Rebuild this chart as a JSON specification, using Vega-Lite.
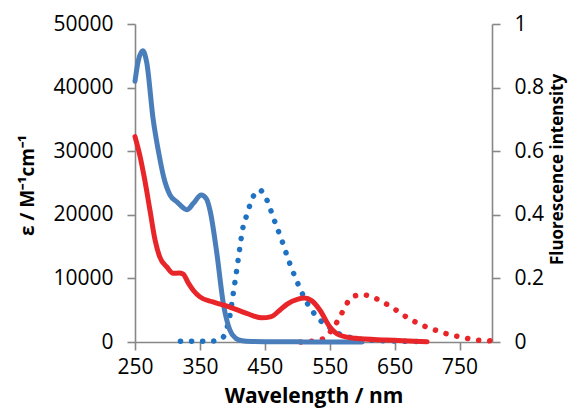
{
  "$schema": "https://vega.github.io/schema/vega-lite/v6.json",
  "autosize": "none",
  "width": 357,
  "height": 318,
  "padding": {"left": 135, "top": 24, "right": 76, "bottom": 77},
  "background": "white",
  "config": {
    "view": {"stroke": null},
    "axis": {
      "labelFont": "Open Sans", "labelFontSize": 21, "labelColor": "#000000",
      "titleFont": "Open Sans", "titleFontSize": 21, "titleFontWeight": "bold", "titleColor": "#000000",
      "domainColor": "#878787", "tickColor": "#878787", "domainWidth": 1.6, "tickWidth": 1.6,
      "tickSize": 8, "grid": false, "labelFlush": false, "labelOverlap": false
    }
  },
  "datasets": {
    "abs": [
      {"series": "blue", "wl": 250, "v": 41000},
      {"series": "blue", "wl": 255, "v": 44200},
      {"series": "blue", "wl": 262, "v": 45800},
      {"series": "blue", "wl": 268, "v": 44000},
      {"series": "blue", "wl": 278, "v": 35000},
      {"series": "blue", "wl": 287, "v": 29500},
      {"series": "blue", "wl": 294, "v": 26000},
      {"series": "blue", "wl": 304, "v": 23100},
      {"series": "blue", "wl": 315, "v": 22000},
      {"series": "blue", "wl": 330, "v": 20800},
      {"series": "blue", "wl": 340, "v": 21800},
      {"series": "blue", "wl": 352, "v": 23100},
      {"series": "blue", "wl": 360, "v": 22500},
      {"series": "blue", "wl": 366, "v": 20500},
      {"series": "blue", "wl": 376, "v": 14000},
      {"series": "blue", "wl": 386, "v": 6100},
      {"series": "blue", "wl": 396, "v": 1900},
      {"series": "blue", "wl": 405, "v": 600},
      {"series": "blue", "wl": 415, "v": 200},
      {"series": "blue", "wl": 430, "v": 80},
      {"series": "blue", "wl": 450, "v": 40},
      {"series": "blue", "wl": 500, "v": 20},
      {"series": "blue", "wl": 600, "v": 0},
      {"series": "red", "wl": 250, "v": 32300},
      {"series": "red", "wl": 258, "v": 29100},
      {"series": "red", "wl": 265, "v": 25500},
      {"series": "red", "wl": 273, "v": 20750},
      {"series": "red", "wl": 281, "v": 16000},
      {"series": "red", "wl": 288, "v": 13400},
      {"series": "red", "wl": 299, "v": 11800},
      {"series": "red", "wl": 309, "v": 10800},
      {"series": "red", "wl": 318, "v": 10850},
      {"series": "red", "wl": 324, "v": 10700},
      {"series": "red", "wl": 332, "v": 9300},
      {"series": "red", "wl": 340, "v": 8100},
      {"series": "red", "wl": 350, "v": 7100},
      {"series": "red", "wl": 370, "v": 6300},
      {"series": "red", "wl": 396, "v": 5500},
      {"series": "red", "wl": 422, "v": 4500},
      {"series": "red", "wl": 445, "v": 3800},
      {"series": "red", "wl": 460, "v": 4000},
      {"series": "red", "wl": 473, "v": 5000},
      {"series": "red", "wl": 485, "v": 6000},
      {"series": "red", "wl": 500, "v": 6700},
      {"series": "red", "wl": 511, "v": 6900},
      {"series": "red", "wl": 522, "v": 6500},
      {"series": "red", "wl": 535, "v": 5000},
      {"series": "red", "wl": 550, "v": 2400},
      {"series": "red", "wl": 565, "v": 1100},
      {"series": "red", "wl": 590, "v": 580},
      {"series": "red", "wl": 637, "v": 300},
      {"series": "red", "wl": 700, "v": 50}
    ],
    "fl": [
      {"series": "blue fl", "wl": 320, "v": 0.002},
      {"series": "blue fl", "wl": 353, "v": 0.002},
      {"series": "blue fl", "wl": 370, "v": 0.003},
      {"series": "blue fl", "wl": 380, "v": 0.007},
      {"series": "blue fl", "wl": 386, "v": 0.015},
      {"series": "blue fl", "wl": 391, "v": 0.04},
      {"series": "blue fl", "wl": 396, "v": 0.08},
      {"series": "blue fl", "wl": 401, "v": 0.148},
      {"series": "blue fl", "wl": 406, "v": 0.216},
      {"series": "blue fl", "wl": 411, "v": 0.289},
      {"series": "blue fl", "wl": 416, "v": 0.357},
      {"series": "blue fl", "wl": 422, "v": 0.398},
      {"series": "blue fl", "wl": 432, "v": 0.457},
      {"series": "blue fl", "wl": 442, "v": 0.478},
      {"series": "blue fl", "wl": 452, "v": 0.452},
      {"series": "blue fl", "wl": 464, "v": 0.386},
      {"series": "blue fl", "wl": 476, "v": 0.321},
      {"series": "blue fl", "wl": 487, "v": 0.255},
      {"series": "blue fl", "wl": 500, "v": 0.188},
      {"series": "blue fl", "wl": 514, "v": 0.127},
      {"series": "blue fl", "wl": 535, "v": 0.069},
      {"series": "blue fl", "wl": 550, "v": 0.045},
      {"series": "blue fl", "wl": 563, "v": 0.027},
      {"series": "blue fl", "wl": 580, "v": 0.015},
      {"series": "blue fl", "wl": 596, "v": 0.009},
      {"series": "blue fl", "wl": 650, "v": 0.003},
      {"series": "blue fl", "wl": 700, "v": 0.001},
      {"series": "red fl", "wl": 505, "v": 0.0},
      {"series": "red fl", "wl": 520, "v": 0.002},
      {"series": "red fl", "wl": 530, "v": 0.005},
      {"series": "red fl", "wl": 542, "v": 0.012},
      {"series": "red fl", "wl": 552, "v": 0.035},
      {"series": "red fl", "wl": 563, "v": 0.069},
      {"series": "red fl", "wl": 571, "v": 0.1},
      {"series": "red fl", "wl": 579, "v": 0.129},
      {"series": "red fl", "wl": 587, "v": 0.143},
      {"series": "red fl", "wl": 594, "v": 0.148},
      {"series": "red fl", "wl": 600, "v": 0.149},
      {"series": "red fl", "wl": 609, "v": 0.146},
      {"series": "red fl", "wl": 624, "v": 0.134},
      {"series": "red fl", "wl": 640, "v": 0.116},
      {"series": "red fl", "wl": 654, "v": 0.098},
      {"series": "red fl", "wl": 667, "v": 0.08},
      {"series": "red fl", "wl": 682, "v": 0.063},
      {"series": "red fl", "wl": 698, "v": 0.048},
      {"series": "red fl", "wl": 712, "v": 0.038},
      {"series": "red fl", "wl": 728, "v": 0.027},
      {"series": "red fl", "wl": 744, "v": 0.019},
      {"series": "red fl", "wl": 760, "v": 0.012},
      {"series": "red fl", "wl": 777, "v": 0.006},
      {"series": "red fl", "wl": 794, "v": 0.004},
      {"series": "red fl", "wl": 800, "v": 0.003}
    ]
  },
  "encoding": {
    "x": {
      "field": "wl", "type": "quantitative",
      "scale": {"domain": [250, 800], "nice": false, "zero": false},
      "axis": {"values": [250, 350, 450, 550, 650, 750], "title": "Wavelength / nm", "labelPadding": 6, "titlePadding": 8}
    },
    "color": {
      "field": "series", "type": "nominal",
      "scale": {"domain": ["blue", "red", "blue fl", "red fl"], "range": ["#4A7EBB", "#E8262A", "#1F72C2", "#E8262A"]},
      "legend": null
    },
    "detail": {"field": "series"}
  },
  "layer": [
    {
      "data": {"name": "fl"},
      "mark": {"type": "line", "interpolate": "monotone", "strokeWidth": 5.5, "strokeDash": [0.1, 11], "strokeCap": "round"},
      "encoding": {
        "y": {
          "field": "v", "type": "quantitative",
          "scale": {"domain": [0, 1], "nice": false},
          "axis": {"orient": "right", "values": [0, 0.2, 0.4, 0.6, 0.8, 1], "format": ".1~f", "title": "Fluorescence intensity", "labelPadding": 14,
                   "titleFontSize": 17, "titleAngle": -90, "titleX": 65, "titleY": 145, "titleAlign": "center", "titleBaseline": "middle"}
        }
      }
    },
    {
      "data": {"name": "abs"},
      "mark": {"type": "line", "interpolate": "monotone", "strokeWidth": 5, "strokeCap": "round"},
      "encoding": {
        "y": {
          "field": "v", "type": "quantitative",
          "scale": {"domain": [0, 50000], "nice": false},
          "axis": {"orient": "left", "values": [0, 10000, 20000, 30000, 40000, 50000], "format": "d", "title": "ε / M⁻¹cm⁻¹", "labelPadding": 14,
                   "titleFontSize": 19, "titleAngle": -90, "titleX": -108, "titleY": 161, "titleAlign": "center", "titleBaseline": "middle"}
        }
      }
    }
  ],
  "resolve": {"scale": {"y": "independent"}}
}
